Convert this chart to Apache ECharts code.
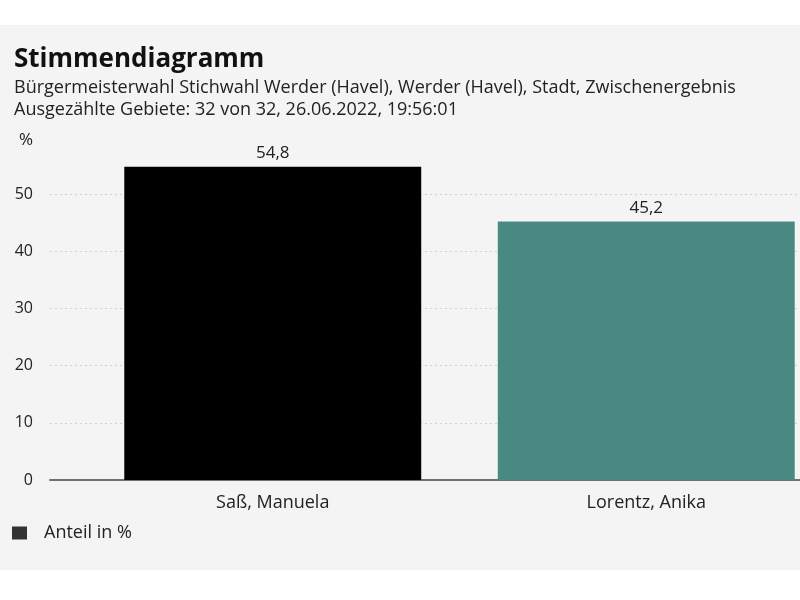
<!DOCTYPE html>
<html>
<head>
<meta charset="utf-8">
<script src="https://cdn.jsdelivr.net/npm/echarts@6/dist/echarts.min.js"></script>
<style>
html,body{margin:0;padding:0;background:#ffffff;width:800px;height:600px;overflow:hidden;}
#chart{position:absolute;left:0;top:25px;width:800px;height:545px;background:#f4f4f4;}
</style>
</head>
<body>
<div id="chart"></div>
<script>
const titleText = 'Stimmendiagramm';
const subtitleLines = [
  'Bürgermeisterwahl Stichwahl Werder (Havel), Werder (Havel), Stadt, Zwischenergebnis',
  'Ausgezählte Gebiete: 32 von 32, 26.06.2022, 19:56:01'
];
const categories = ['Saß, Manuela', 'Lorentz, Anika'];
const shares = [54.8, 45.2];
const barColors = ['#000000', '#488a81'];
const seriesName = 'Anteil in %';
const yMin = 0, yMax = 60, yStep = 10;

const FONT = '"Open Sans", "Noto Sans", sans-serif';
const chart = echarts.init(document.getElementById('chart'), null, {renderer: 'canvas'});

const option = {
  backgroundColor: '#f4f4f4',
  animation: false,
  textStyle: {fontFamily: FONT},
  title: {
    text: titleText,
    subtext: subtitleLines.join('\n'),
    left: 9,
    top: 17,
    itemGap: 4,
    textStyle: {fontFamily: FONT, fontSize: 26, fontWeight: 'bold', color: '#111'},
    subtextStyle: {fontFamily: FONT, fontSize: 18, color: '#222', lineHeight: 22}
  },
  legend: {
    left: 7,
    top: 494,
    itemWidth: 15,
    itemHeight: 13,
    icon: 'rect',
    data: [seriesName],
    textStyle: {fontFamily: FONT, fontSize: 18, color: '#222', padding: [0, 0, 0, 12]}
  },
  grid: [
    {left: 50, right: 0, top: 112, bottom: 90, outerBoundsMode: 'none'},
    {left: 86, width: 747, top: 112, bottom: 90, outerBoundsMode: 'none'}
  ],
  xAxis: [
    {
      type: 'category', gridIndex: 0, data: categories,
      axisLine: {show: true, lineStyle: {color: '#707070', width: 2}},
      axisTick: {show: false},
      axisLabel: {show: false},
      splitLine: {show: false}
    },
    {
      type: 'category', gridIndex: 1, data: categories,
      axisLine: {show: false},
      axisTick: {show: false},
      axisLabel: {show: true, margin: 14, fontFamily: FONT, fontSize: 18, color: '#222'},
      splitLine: {show: false}
    }
  ],
  yAxis: [
    {
      type: 'value', gridIndex: 0, min: yMin, max: yMax, interval: yStep,
      name: '%',
      nameLocation: 'end',
      nameGap: -12,
      nameTextStyle: {fontFamily: FONT, fontSize: 17, color: '#222', align: 'right', padding: [0, 17, 0, 0]},
      axisLine: {show: false},
      axisTick: {show: false},
      axisLabel: {show: true, margin: 17, fontFamily: FONT, fontSize: 16, color: '#222', showMaxLabel: false},
      splitLine: {show: true, showMaxLine: false, lineStyle: {color: '#cfcfcf', type: [2, 3], width: 1}}
    },
    {
      type: 'value', gridIndex: 1, min: yMin, max: yMax, interval: yStep,
      show: false,
      splitLine: {show: false}
    }
  ],
  series: [
    {
      name: seriesName,
      type: 'bar',
      xAxisIndex: 1,
      yAxisIndex: 1,
      barWidth: '79.5%',
      itemStyle: {color: '#333333'},
      data: shares.map((v, i) => ({value: v, itemStyle: {color: barColors[i]}})),
      label: {
        show: true,
        position: 'top',
        distance: 5,
        fontFamily: FONT,
        fontSize: 17,
        color: '#222',
        formatter: p => String(p.value).replace('.', ',')
      }
    }
  ]
};
chart.setOption(option);
</script>
</body>
</html>
